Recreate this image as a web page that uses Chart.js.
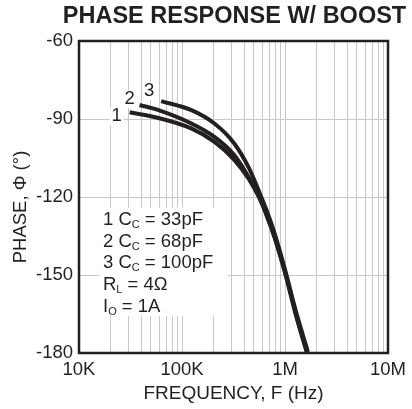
<!DOCTYPE html>
<html>
<head>
<meta charset="utf-8">
<script src="https://cdn.jsdelivr.net/npm/chart.js@4/dist/chart.umd.min.js"></script>
<style>
  html, body { margin: 0; padding: 0; background: #fff; }
</style>
</head>
<body>
<canvas id="chart" width="412" height="409"></canvas>
<script>
const titleText = 'PHASE RESPONSE W/ BOOST'
const xTitle = 'FREQUENCY, F (Hz)'
const yTitle = 'PHASE, Φ (°)'

const xTickValues = [1e4, 1e5, 1e6, 1e7]
const xTickLabels = ['10K', '100K', '1M', '10M']
const yMin = -180
const yMax = -60
const yStep = 30

const curveNames = ['1', '2', '3']
// 1: Cc = 33pF
const freq1 = [31e3, 57.8e3, 123e3, 205e3, 320e3, 446e3, 557e3, 666e3, 795e3, 1.014e6, 1.267e6, 1.62e6]
const phase1 = [-87.4, -89.5, -93.6, -98.7, -105.6, -113.1, -120, -127.3, -135.8, -150, -165, -179.6]
// 2: Cc = 68pF
const freq2 = [38.7e3, 58.2e3, 122e3, 205e3, 320e3, 446e3, 557e3, 666e3, 795e3, 1.014e6, 1.267e6, 1.64e6]
const phase2 = [-84.6, -86.5, -91.65, -96.8, -103.8, -112.5, -119.6, -126.9, -135.4, -149.6, -164.6, -179.6]
// 3: Cc = 100pF
const freq3 = [62.8e3, 122e3, 205e3, 320e3, 446e3, 557e3, 666e3, 795e3, 1.014e6, 1.267e6, 1.67e6]
const phase3 = [-83.1, -86.5, -91.65, -99.3, -108.8, -117.7, -125.4, -134.2, -148.8, -163.5, -179.6]

// [text, subscript, rest]
const noteLines = [
  ['1 C', 'C', ' = 33pF'],
  ['2 C', 'C', ' = 68pF'],
  ['3 C', 'C', ' = 100pF'],
  ['R', 'L', ' = 4Ω'],
  ['I', 'O', ' = 1A']
]

const ink = '#231f20'
const fontFamily = "Arial, 'Liberation Sans', Helvetica, sans-serif"
Chart.defaults.font.family = fontFamily
Chart.defaults.color = ink

function toPoints(xs, ys) {
  return xs.map((x, i) => ({ x: x, y: ys[i] }))
}

const series = [toPoints(freq1, phase1), toPoints(freq2, phase2), toPoints(freq3, phase3)]

function logTicks() {
  let ticks = []
  for (let n = 4; n < 7; n++) {
    for (let k = 1; k < 10; k++) {
      ticks.push({ value: k * Math.pow(10, n) })
    }
  }
  ticks.push({ value: 1e7 })
  return ticks
}

const extras = {
  id: 'extras',
  beforeDatasetsDraw(chart) {
    const ctx = chart.ctx
    const xs = chart.scales.x
    const ys = chart.scales.y
    ctx.save()

    // curve numbers near the start of each line
    const offsets = [[-13, 4], [-10, -6], [-12, -10]]
    ctx.font = `18.5px ${fontFamily}`
    ctx.textAlign = 'center'
    ctx.textBaseline = 'middle'
    series.forEach((pts, i) => {
      const px = xs.getPixelForValue(pts[0].x) + offsets[i][0]
      const py = ys.getPixelForValue(pts[0].y) + offsets[i][1]
      ctx.fillStyle = '#fff'
      ctx.fillRect(px - 7, py - 9, 14, 18)
      ctx.fillStyle = ink
      ctx.fillText(curveNames[i], px, py)
    })

    // conditions block
    const left = 103
    const top = 218.5
    const step = 21.6
    ctx.fillStyle = '#fff'
    ctx.fillRect(left - 3, top - 11, 128, step * (noteLines.length - 1) + 22)
    ctx.textAlign = 'left'
    ctx.textBaseline = 'alphabetic'
    noteLines.forEach((line, i) => {
      const base = top + i * step + 6.6
      let x = left
      ctx.fillStyle = ink
      ctx.font = `18.5px ${fontFamily}`
      ctx.fillText(line[0], x, base)
      x += ctx.measureText(line[0]).width
      ctx.font = `11px ${fontFamily}`
      ctx.fillText(line[1], x, base + 3)
      x += ctx.measureText(line[1]).width
      ctx.font = `18.5px ${fontFamily}`
      ctx.fillText(line[2], x, base)
    })
    ctx.restore()
  },
  afterDatasetsDraw(chart) {
    const ctx = chart.ctx
    const a = chart.chartArea
    ctx.save()
    ctx.strokeStyle = ink
    ctx.lineWidth = 2.5
    ctx.strokeRect(a.left, a.top, a.right - a.left, a.bottom - a.top)

    // chart title, centred over the plot (wider than the plot itself)
    ctx.font = `bold 23.5px ${fontFamily}`
    ctx.fillStyle = ink
    ctx.textAlign = 'center'
    ctx.textBaseline = 'middle'
    ctx.fillText(titleText, (a.left + a.right) / 2 + 1, 17)

    // y axis title, rotated
    ctx.translate(21, 207)
    ctx.rotate(-Math.PI / 2)
    ctx.font = `18.5px ${fontFamily}`
    ctx.fillText(yTitle, 0, 0)
    ctx.restore()
  }
}

new Chart(document.getElementById('chart'), {
  type: 'line',
  data: {
    datasets: series.map((pts, i) => ({
      label: curveNames[i],
      data: pts,
      borderColor: ink,
      borderWidth: 4,
      pointRadius: 0,
      fill: false,
      cubicInterpolationMode: 'monotone'
    }))
  },
  options: {
    responsive: false,
    animation: false,
    layout: { padding: { left: 0, right: 22, top: 41, bottom: 0 } },
    plugins: {
      legend: { display: false },
      tooltip: { enabled: false },
      title: { display: false }
    },
    scales: {
      x: {
        type: 'logarithmic',
        min: xTickValues[0],
        max: xTickValues[xTickValues.length - 1],
        afterBuildTicks: s => { s.ticks = logTicks() },
        afterFit: s => { s.height = 56 },
        grid: { color: '#c8c8c8', lineWidth: 1, drawTicks: false },
        border: { display: false },
        ticks: {
          autoSkip: false,
          maxRotation: 0,
          padding: 6,
          color: ink,
          font: { size: 18.5 },
          callback: v => {
            const i = xTickValues.indexOf(v)
            return i >= 0 ? xTickLabels[i] : ''
          }
        },
        title: {
          display: true,
          text: xTitle,
          color: ink,
          font: { size: 19 },
          padding: { top: 0, bottom: 4 }
        }
      },
      y: {
        type: 'linear',
        min: yMin,
        max: yMax,
        afterFit: s => { s.width = 79 },
        grid: { color: '#c8c8c8', lineWidth: 1, drawTicks: false },
        border: { display: false },
        ticks: {
          stepSize: yStep,
          padding: 6,
          color: ink,
          font: { size: 18.5 }
        }
      }
    }
  },
  plugins: [extras]
})
</script>
</body>
</html>
